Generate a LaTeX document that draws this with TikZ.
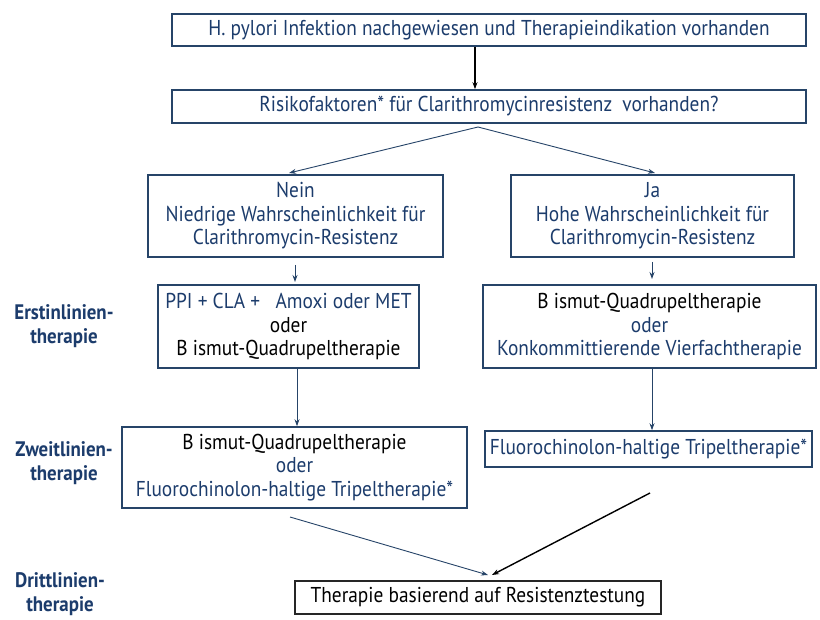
\documentclass[tikz,border=0pt]{standalone}
\usepackage{fontspec}
\setmainfont{PT Sans}[FakeStretch=0.9]
\usetikzlibrary{arrows.meta,calc}
\definecolor{tblue}{RGB}{28,60,108}
\definecolor{bblue}{RGB}{38,68,104}
\begin{document}
\begin{tikzpicture}[x=1pt,y=-1pt,
  box/.style={draw=bblue,line width=1.6pt,rectangle,inner sep=0pt,align=center,
    text=tblue,font=\fontsize{21.5}{23.5}\selectfont},
  lbl/.style={align=center,text=tblue,font=\bfseries\fontsize{21}{24}\selectfont},
  barrow/.style={draw=bblue,line width=0.9pt,-{Stealth[length=7pt,width=5pt]}},
  karrow/.style={draw=black,line width=1.4pt,-{Stealth[length=7pt,width=5pt]}}]
\useasboundingbox (0,0) rectangle (820,620);
\fill[white] (0,0) rectangle (820,620);

\node[box,minimum width=634pt,minimum height=32pt] (top) at (489,30)
  {H. pylori Infektion nachgewiesen und Therapieindikation vorhanden};
\node[box,minimum width=634pt,minimum height=33pt] (q) at (489,106.5)
  {Risikofaktoren* für Clarithromycinresistenz\ \ vorhanden?};

\node[box,minimum width=295pt,minimum height=82pt] (nein) at (295.5,216)
  {Nein\\Niedrige Wahrscheinlichkeit für\\Clarithromycin-Resistenz};
\node[box,minimum width=283pt,minimum height=82pt] (ja) at (652.5,216)
  {Ja\\Hohe Wahrscheinlichkeit für\\Clarithromycin-Resistenz};

\node[box,minimum width=261pt,minimum height=83pt] (e1) at (288.5,326.5)
  {PPI + CLA +\ \ \ Amoxi oder MET\\\textcolor{black}{oder}\\\textcolor{black}{B ismut-Quadrupeltherapie}};
\node[box,minimum width=333pt,minimum height=83pt] (e2) at (649.5,326.5)
  {\textcolor{black}{B ismut-Quadrupeltherapie}\\oder\\Konkommittierende Vierfachtherapie};

\node[box,minimum width=345pt,minimum height=81pt] (z1) at (294.5,467.5)
  {\textcolor{black}{B ismut-Quadrupeltherapie}\\oder\\Fluorochinolon-haltige Tripeltherapie*};
\node[box,minimum width=327pt,minimum height=36pt] (z2) at (648.5,449)
  {Fluorochinolon-haltige Tripeltherapie*};

\node[box,draw=black!85,text=black,minimum width=366pt,minimum height=33pt] (d) at (478,597.5)
  {Therapie basierend auf Resistenztestung};

\node[lbl] (l1) at (64,326) {Erstinlinien-\\therapie};
\node[lbl] (l2) at (64,463) {Zweitlinien-\\therapie};
\node[lbl] (l3) at (60,594) {Drittlinien-\\therapie};

\coordinate (qs) at (478,127);
\coordinate (z1s) at (290,517);
\coordinate (z2s) at (650,493);

\draw[karrow] (top.south -| 475,0) -- (q.north -| 475,0);
\draw[barrow] (qs) -- (289,173);
\draw[barrow] (qs) -- (655,173);
\draw[barrow] (295,265) -- (295,282);
\draw[barrow] (652,262) -- (652,279);
\draw[barrow] (e1.south -| 297,0) -- (z1.north -| 297,0);
\draw[barrow] (e2.south -| 652,0) -- (z2.north -| 652,0);
\draw[barrow] (z1s) -- (488,575);
\draw[karrow] (z2s) -- (492,575);
\end{tikzpicture}
\end{document}
